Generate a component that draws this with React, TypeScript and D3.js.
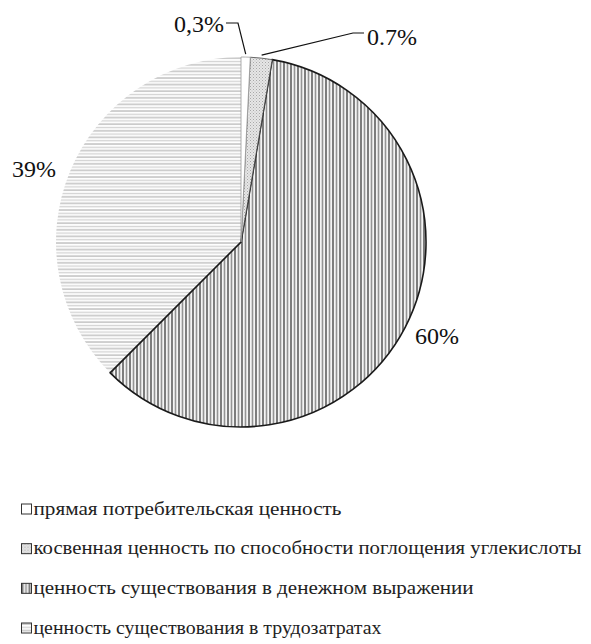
import React from 'react';
import * as d3 from 'd3';

// pie of value components, hatched like the original greyscale figure
const categories = [
  'прямая потребительская ценность',
  'косвенная ценность по способности поглощения углекислоты',
  'ценность существования в денежном выражении',
  'ценность существования в трудозатратах',
];
// slice sizes as drawn in the figure (percent)
const shares = [0.8, 1.9, 59.8, 37.5];
// labels as printed on the figure
const sliceLabels = ['0,3%', '0.7%', '60%', '39%'];

const width = 591;
const height = 644;
const cx = 241;
const cy = 242;
const radius = 185;
const font = "'Liberation Serif', 'Times New Roman', serif";

const patternIds = ['p-white', 'p-dots', 'p-vert', 'p-horiz'];
const strokes = ['#9a9a9a', '#444', '#1a1a1a', 'none'];
// rendered widths of the legend texts in the figure
const legendWidths = [308, 548, 440, 348];

// label placement: x, baseline y, anchor, leader elbow and leader start x
const labelLayout: any[] = [
  { x: 224, y: 32, anchor: 'end', elbow: [238, 23], start: 226 },
  { x: 367, y: 45, anchor: 'start', elbow: [353, 33], start: 364 },
  { x: 415, y: 344, anchor: 'start', elbow: null },
  { x: 12, y: 177, anchor: 'start', elbow: null },
];

export default function App() {
  const pie = d3.pie<number>().sort(null).value(d => d).startAngle(0).endAngle(2 * Math.PI);
  const arcs = pie(shares);
  const arc = d3.arc<d3.PieArcDatum<number>>().innerRadius(0).outerRadius(radius);
  const outer = d3.arc<d3.PieArcDatum<number>>().innerRadius(radius + 3).outerRadius(radius + 3);

  const legendY = d3.scaleLinear().domain([0, 3]).range([504, 623]);

  return (
    <svg width={width} height={height} style={{ position: 'absolute', left: 0, top: 0, background: '#fff' }}>
      <defs>
        <pattern id="p-white" patternUnits="userSpaceOnUse" width={4} height={4}>
          <rect width={4} height={4} fill="#fff" />
        </pattern>
        <pattern id="p-dots" patternUnits="userSpaceOnUse" width={3} height={3}>
          <rect width={3} height={3} fill="#e6e6e6" />
          <rect x={0} y={0} width={1} height={1} fill="#a8a8a8" />
          <rect x={1.5} y={1.5} width={1} height={1} fill="#bcbcbc" />
        </pattern>
        <pattern id="p-vert" patternUnits="userSpaceOnUse" width={7} height={7}>
          <rect width={7} height={7} fill="#f4f4f4" />
          <line x1={1} y1={0} x2={1} y2={7} stroke="#5e5e5e" strokeWidth={1.6} />
          <line x1={4.5} y1={0} x2={4.5} y2={7} stroke="#949494" strokeWidth={1.6} />
        </pattern>
        <pattern id="p-horiz" patternUnits="userSpaceOnUse" width={6} height={6.6}>
          <rect width={6} height={6.6} fill="#fff" />
          <line x1={0} y1={1} x2={6} y2={1} stroke="#bdbdbd" strokeWidth={1.4} />
          <line x1={0} y1={4.3} x2={6} y2={4.3} stroke="#d4d4d4" strokeWidth={1.4} />
        </pattern>
      </defs>

      <g transform={`translate(${cx},${cy})`}>
        {arcs.slice().reverse().map((a) => (
          <path
            key={a.index}
            d={arc(a) || ''}
            fill={`url(#${patternIds[a.index]})`}
            stroke={strokes[a.index]}
            strokeWidth={a.index === 2 ? 1.6 : 0.8}
          />
        ))}
      </g>

      {arcs.map((a, i) => {
        const l = labelLayout[i];
        let leader = null;
        if (l.elbow) {
          const [px, py] = outer.centroid(a);
          leader = (
            <polyline
              points={`${l.start},${l.elbow[1]} ${l.elbow[0]},${l.elbow[1]} ${cx + px},${cy + py}`}
              fill="none"
              stroke="#111"
              strokeWidth={1.2}
            />
          );
        }
        return (
          <g key={i}>
            {leader}
            <text x={l.x} y={l.y} textAnchor={l.anchor} style={{ fontFamily: font, fontSize: 24 }} fill="#111">
              {sliceLabels[i]}
            </text>
          </g>
        );
      })}

      {categories.map((c, i) => (
        <g key={c} transform={`translate(21.5,${legendY(i)})`}>
          <rect width={10} height={10} fill={`url(#${patternIds[i]})`} stroke="#333" strokeWidth={1} />
          <text
            x={12}
            y={10.5}
            style={{ fontFamily: font, fontSize: 19 }}
            textLength={legendWidths[i]}
            lengthAdjust="spacingAndGlyphs"
            fill="#222"
          >
            {c}
          </text>
        </g>
      ))}
    </svg>
  );
}
